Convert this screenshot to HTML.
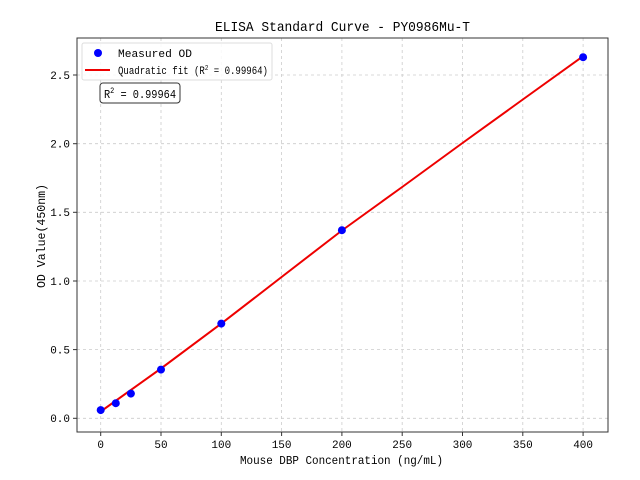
<!DOCTYPE html>
<html><head><meta charset="utf-8"><style>body{margin:0;background:#fff}svg{display:block}text{font-family:"Liberation Mono","WenQuanYi Zen Hei",monospace;fill:#000}</style></head><body>
<svg width="640" height="480" xmlns="http://www.w3.org/2000/svg">
<g stroke="#ccc" stroke-dasharray="3,3" stroke-width="0.8">
<line x1="100.7" y1="38" x2="100.7" y2="432"/><line x1="161" y1="38" x2="161" y2="432"/><line x1="221.3" y1="38" x2="221.3" y2="432"/><line x1="281.6" y1="38" x2="281.6" y2="432"/><line x1="341.9" y1="38" x2="341.9" y2="432"/><line x1="402.2" y1="38" x2="402.2" y2="432"/><line x1="462.5" y1="38" x2="462.5" y2="432"/><line x1="522.8" y1="38" x2="522.8" y2="432"/><line x1="583.1" y1="38" x2="583.1" y2="432"/>
<line x1="77" y1="418.3" x2="608" y2="418.3"/><line x1="77" y1="349.6" x2="608" y2="349.6"/><line x1="77" y1="281" x2="608" y2="281"/><line x1="77" y1="212.3" x2="608" y2="212.3"/><line x1="77" y1="143.7" x2="608" y2="143.7"/><line x1="77" y1="75" x2="608" y2="75"/>
</g>
<polyline fill="none" stroke="#e00" stroke-width="2" points="100.7,411.5 161,368.5 221.3,323.6 281.6,277 341.9,230.5 402.2,187 462.5,143 522.8,99.5 583.1,56.2"/>
<g fill="#00f">
<circle cx="100.7" cy="410.1" r="4"/><circle cx="115.8" cy="403.2" r="4"/><circle cx="130.9" cy="393.6" r="4"/><circle cx="161" cy="369.6" r="4"/><circle cx="221.3" cy="323.6" r="4"/><circle cx="341.9" cy="230.2" r="4"/><circle cx="583.1" cy="57.2" r="4"/>
</g>
<rect x="77" y="38" width="531" height="394" fill="none" stroke="#333" stroke-width="1"/>
<g stroke="#333"><line x1="100.7" y1="432" x2="100.7" y2="436"/><line x1="161" y1="432" x2="161" y2="436"/><line x1="221.3" y1="432" x2="221.3" y2="436"/><line x1="281.6" y1="432" x2="281.6" y2="436"/><line x1="341.9" y1="432" x2="341.9" y2="436"/><line x1="402.2" y1="432" x2="402.2" y2="436"/><line x1="462.5" y1="432" x2="462.5" y2="436"/><line x1="522.8" y1="432" x2="522.8" y2="436"/><line x1="583.1" y1="432" x2="583.1" y2="436"/>
<line x1="73" y1="418.3" x2="77" y2="418.3"/><line x1="73" y1="349.6" x2="77" y2="349.6"/><line x1="73" y1="281" x2="77" y2="281"/><line x1="73" y1="212.3" x2="77" y2="212.3"/><line x1="73" y1="143.7" x2="77" y2="143.7"/><line x1="73" y1="75" x2="77" y2="75"/></g>
<g font-size="11" text-anchor="middle"><text x="100.7" y="448">0</text><text x="161" y="448">50</text><text x="221.3" y="448">100</text><text x="281.6" y="448">150</text><text x="341.9" y="448">200</text><text x="402.2" y="448">250</text><text x="462.5" y="448">300</text><text x="522.8" y="448">350</text><text x="583.1" y="448">400</text></g>
<g font-size="11" text-anchor="end"><text x="70" y="422">0.0</text><text x="70" y="353.5">0.5</text><text x="70" y="285">1.0</text><text x="70" y="216">1.5</text><text x="70" y="147.5">2.0</text><text x="70" y="79">2.5</text></g>
<text x="240" y="464" font-size="12" textLength="203" lengthAdjust="spacingAndGlyphs">Mouse DBP Concentration (ng/mL)</text>
<text transform="translate(45,288) rotate(-90)" font-size="12" textLength="104" lengthAdjust="spacingAndGlyphs">OD Value(450nm)</text>
<text x="215" y="31" font-size="14" textLength="255" lengthAdjust="spacingAndGlyphs">ELISA Standard Curve - PY0986Mu-T</text>
<rect x="82" y="43" width="190" height="37" rx="2" fill="#fff" fill-opacity="0.85" stroke="#ddd"/>
<circle cx="98" cy="53" r="4" fill="#00f"/><text x="118" y="57" font-size="11" textLength="74" lengthAdjust="spacingAndGlyphs">Measured OD</text>
<line x1="85" y1="70" x2="110" y2="70" stroke="#e00" stroke-width="2"/><text x="118" y="74" font-size="11" textLength="150" lengthAdjust="spacingAndGlyphs">Quadratic fit (R<tspan dy="-4" font-size="7">2</tspan><tspan dy="4"> = 0.99964)</tspan></text>
<rect x="100" y="83" width="80" height="20" rx="3" fill="#fff" stroke="#333"/>
<text x="104" y="98" font-size="12" textLength="72" lengthAdjust="spacingAndGlyphs">R<tspan dy="-5" font-size="8">2</tspan><tspan dy="5"> = 0.99964</tspan></text>
</svg></body></html>
